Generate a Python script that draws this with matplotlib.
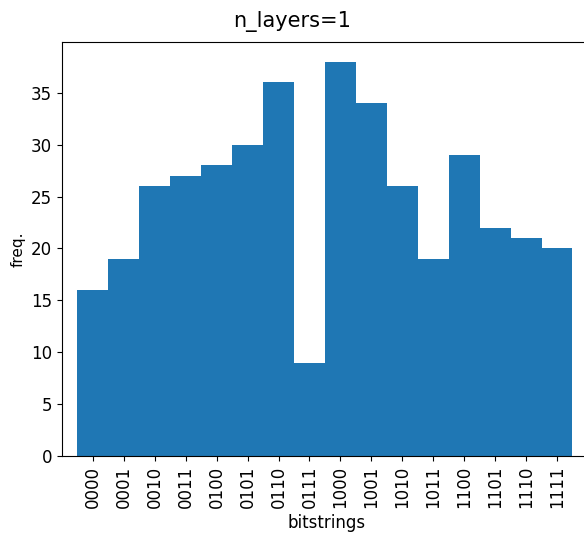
import numpy as np
import matplotlib
matplotlib.use('Agg')
import matplotlib.pyplot as plt

bitstrings = ['0000', '0001', '0010', '0011', '0100', '0101', '0110', '0111',
              '1000', '1001', '1010', '1011', '1100', '1101', '1110', '1111']
counts = [16, 19, 26, 27, 28, 30, 36, 9, 38, 34, 26, 19, 29, 22, 21, 20]

fig = plt.figure(figsize=(5.84, 5.45), dpi=100)
# axes run slightly past the right edge, so the right spine is off the canvas
ax = fig.add_axes([0.106, 0.1633, 0.905, 0.7596])

x = np.arange(len(bitstrings))
ax.bar(x, counts, width=1.0, color='#1f77b4')
ax.set_xlim(-1, 16.08)

ax.set_xticks(x)
ax.set_xticklabels(bitstrings, rotation=90, fontsize=12)
ax.tick_params(axis='y', labelsize=12)

ax.set_xlabel('bitstrings', fontsize=12)
ax.set_ylabel('freq.', fontsize=11)
fig.suptitle('n_layers=1', fontsize=15)

fig.savefig('out.png', dpi=100)
